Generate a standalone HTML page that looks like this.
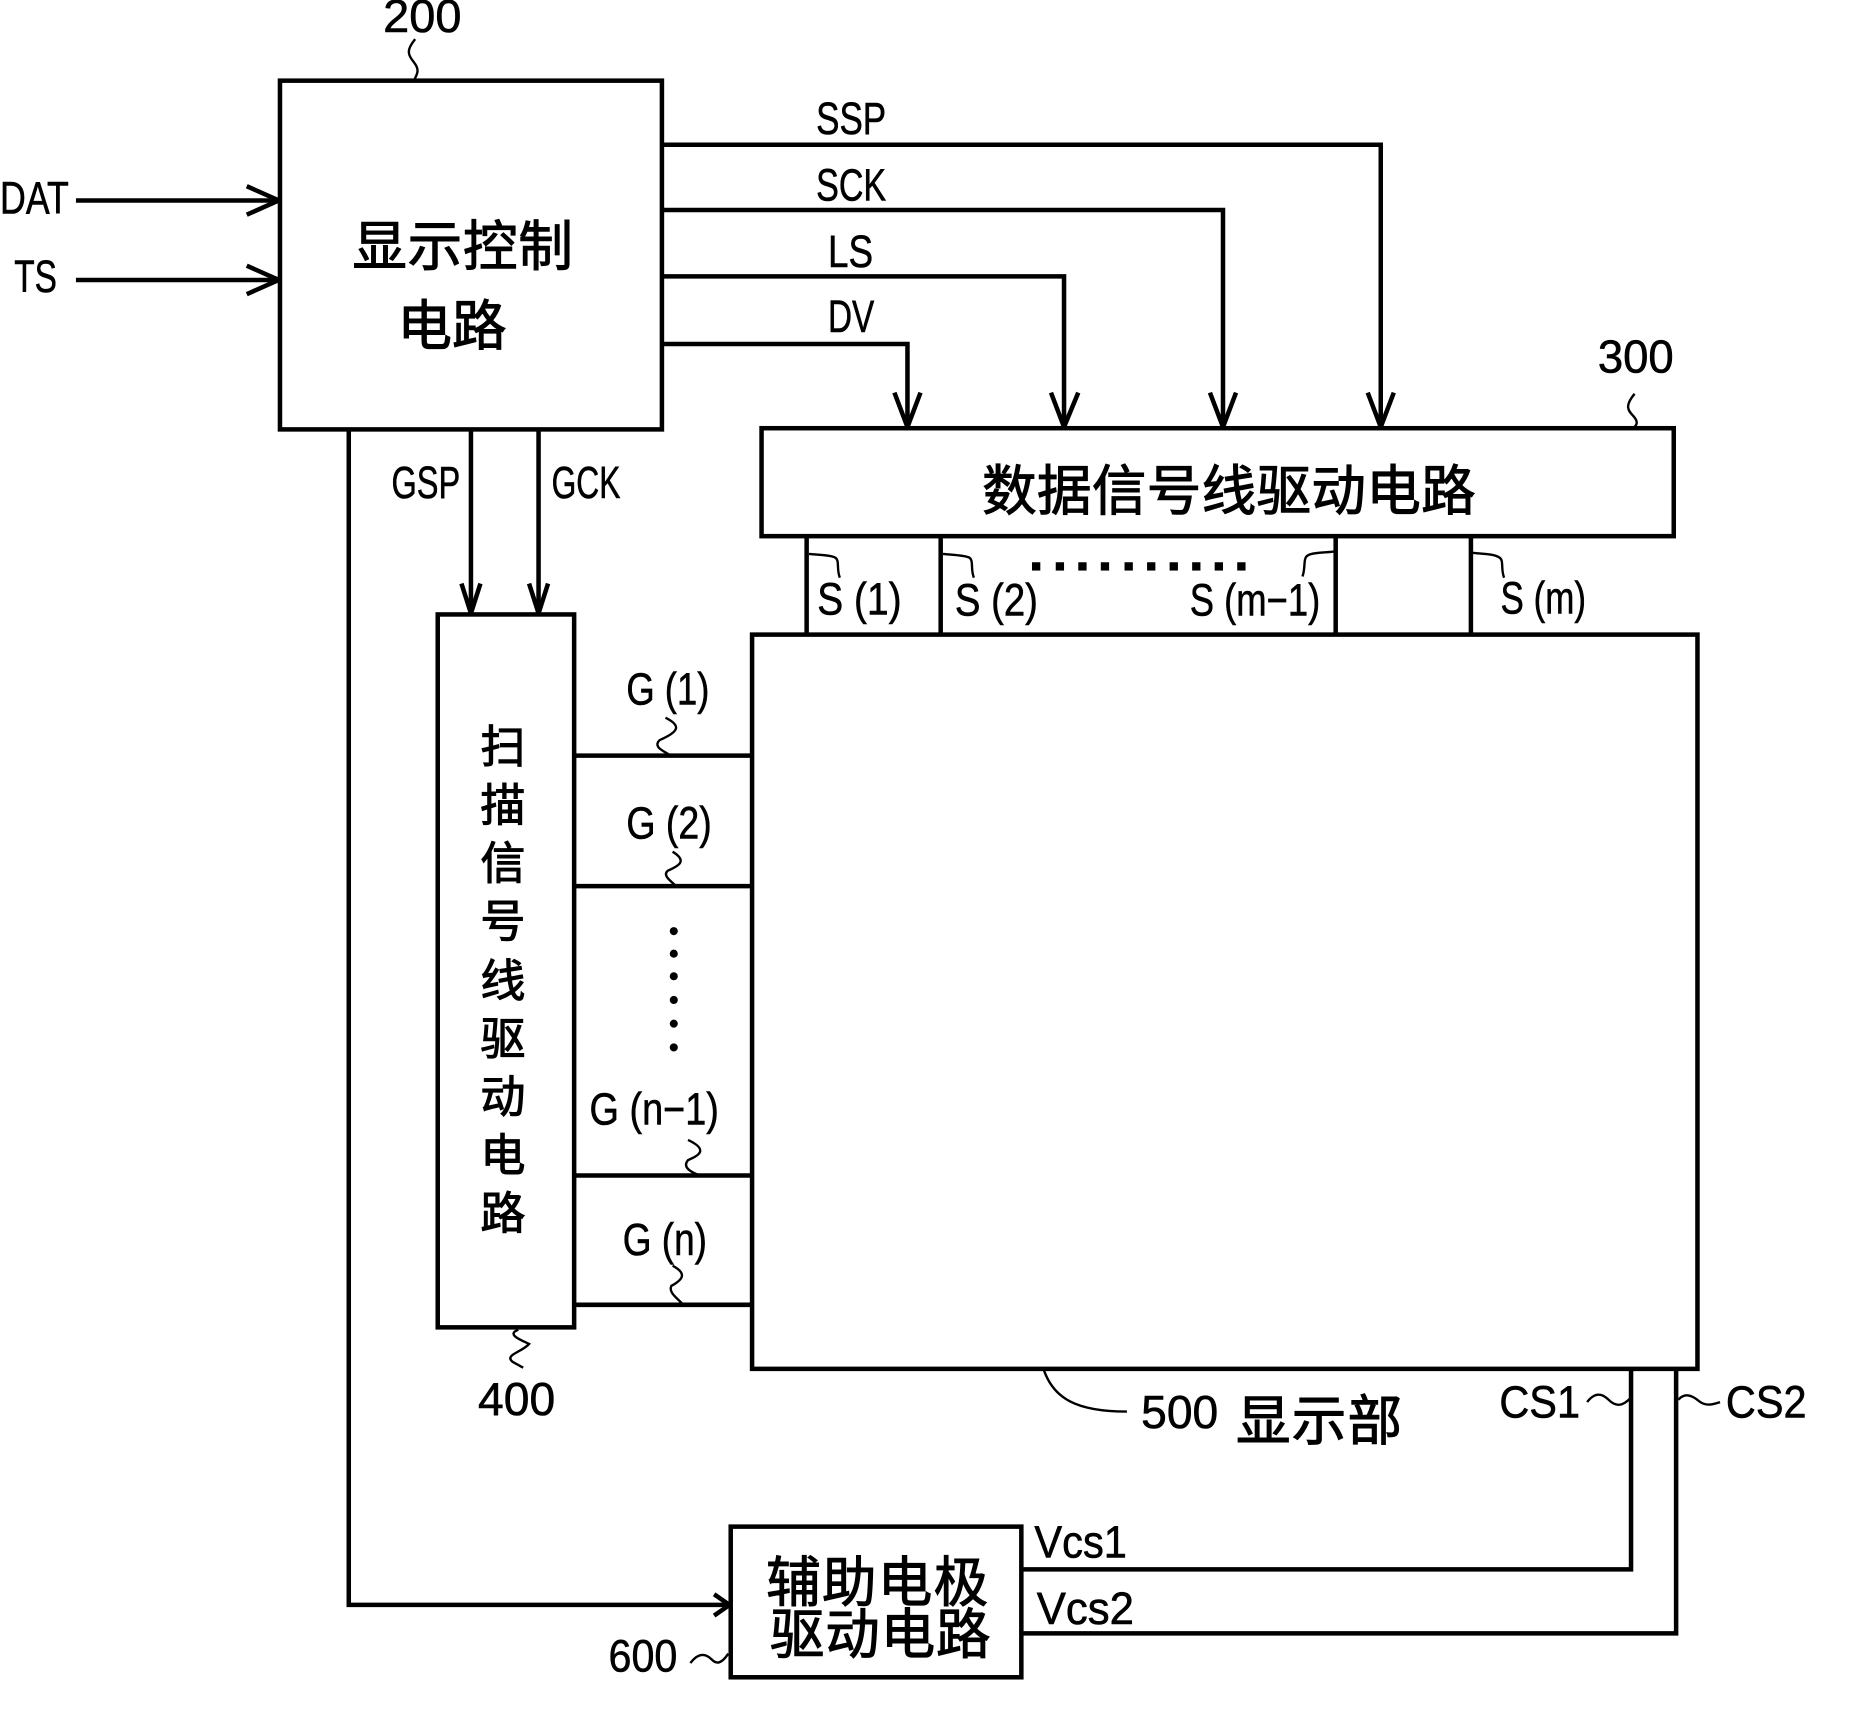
<!DOCTYPE html>
<html><head><meta charset="utf-8"><style>
html,body{margin:0;padding:0;background:#fff;width:1860px;height:1715px;overflow:hidden}
svg{display:block}
text{font-family:"Liberation Sans","Noto Sans CJK SC",sans-serif;fill:#000}
.l{font-size:38px}
.l text{stroke:#000;stroke-width:.5px}
.c{stroke:#000;stroke-width:.9px}
</style></head><body>
<svg width="1860" height="1715" viewBox="0 0 1568 1445.8" xmlns="http://www.w3.org/2000/svg">
<rect width="1568" height="1446" fill="#fff"/>
<g fill="none" stroke="#000" stroke-width="3.8">
<rect x="236" y="68" width="322" height="294"/>
<rect x="642" y="361" width="769" height="91"/>
<rect x="369" y="518" width="115" height="601"/>
<rect x="634" y="535" width="797" height="619"/>
<rect x="616" y="1287" width="245" height="127"/>
<path d="M558 122H1164V361M558 177H1031V361M558 233H897V361M558 290H765V361"/>
<path d="M64 169H236M64 236H236M397 362V518M454 362V518M294 362V1353H616"/>
<path d="M680 452V535M793 452V535M1126 452V535M1240 452V535"/>
<path d="M484 637H633M484 747H633M484 991H633M484 1100H633"/>
<path d="M1375 1154V1323H861M1413 1154V1377H861"/>
</g>
<g fill="none" stroke="#000" stroke-width="3.8" stroke-linejoin="bevel">
<path d="M754 331L765 360L776 331M886 331L897 360L909 331M1020 331L1031 360L1042 331M1153 331L1164 360L1175 331"/>
<path d="M208 157L235 169L208 181M208 224L235 236L208 248"/>
<path d="M389 492L397 517L405 492M446 492L454 517L462 492"/>
<path d="M602 1344L615 1353L602 1362"/>
</g>
<g fill="none" stroke="#000" stroke-width="2">
<path d="M350 33C341 44 345 47 350 54C354 60 351 63 349 68"/>
<path d="M1378 332C1368 344 1374 347 1378 352C1381 356 1380 358 1377 361"/>
<path d="M437 1121C426 1125 440 1130 446 1133C440 1140 425 1142 432 1148L441 1153"/>
<path d="M561 605C575 612 572 617 556 624C550 630 560 633 565 637"/>
<path d="M567 718C580 726 572 730 563 734C558 738 566 743 570 747"/>
<path d="M580 961C597 969 590 974 580 978C575 984 582 988 590 991"/>
<path d="M567 1067C580 1074 575 1079 566 1084C563 1090 572 1095 576 1100"/>
<path d="M682 467C692 468 700 468 704 470C708 472 705 480 708 487"/>
<path d="M795 467C805 468 812 468 817 470C821 472 818 480 821 487"/>
<path d="M1125 465C1115 466 1106 466 1103 468C1098 470 1101 478 1098 486"/>
<path d="M1241 466C1251 467 1260 467 1264 470C1268 472 1265 480 1268 487"/>
<path d="M880 1155C888 1178 906 1190 950 1190"/>
<path d="M1338 1182C1344 1174 1350 1174 1356 1180C1362 1186 1368 1186 1375 1178"/>
<path d="M1415 1180C1420 1174 1426 1176 1432 1181C1438 1186 1444 1184 1450 1182"/>
<path d="M582 1402C588 1394 594 1393 600 1399C604 1403 608 1403 614 1394"/>
</g>
<g fill="#000">
<rect x="870" y="474" width="7" height="7"/><rect x="890" y="474" width="7" height="7"/><rect x="909" y="474" width="7" height="7"/><rect x="928" y="474" width="7" height="7"/><rect x="948" y="474" width="7" height="7"/><rect x="967" y="474" width="7" height="7"/><rect x="986" y="474" width="7" height="7"/><rect x="1005" y="474" width="7" height="7"/><rect x="1024" y="474" width="7" height="7"/><rect x="1043" y="474" width="7" height="7"/>
<circle cx="568" cy="785" r="3.4"/><circle cx="568" cy="804" r="3.4"/><circle cx="568" cy="823" r="3.4"/><circle cx="568" cy="843" r="3.4"/><circle cx="568" cy="863" r="3.4"/><circle cx="568" cy="883" r="3.4"/>
</g>
<g class="l">
<text x="323" y="27" textLength="66" lengthAdjust="spacingAndGlyphs" style="font-size:39px">200</text>
<text x="688" y="113" textLength="59" lengthAdjust="spacingAndGlyphs">SSP</text>
<text x="688" y="169" textLength="59" lengthAdjust="spacingAndGlyphs">SCK</text>
<text x="698" y="225" textLength="38" lengthAdjust="spacingAndGlyphs">LS</text>
<text x="698" y="280" textLength="39" lengthAdjust="spacingAndGlyphs">DV</text>
<text x="0" y="180" textLength="58" lengthAdjust="spacingAndGlyphs">DAT</text>
<text x="12" y="246" textLength="36" lengthAdjust="spacingAndGlyphs">TS</text>
<text x="1347" y="314" textLength="64" lengthAdjust="spacingAndGlyphs" style="font-size:39px">300</text>
<text x="330" y="420" textLength="58" lengthAdjust="spacingAndGlyphs">GSP</text>
<text x="465" y="420" textLength="58" lengthAdjust="spacingAndGlyphs">GCK</text>
<text x="689" y="518" textLength="71" lengthAdjust="spacingAndGlyphs">S (1)</text>
<text x="805" y="519" textLength="70" lengthAdjust="spacingAndGlyphs">S (2)</text>
<text x="1003" y="519" textLength="110" lengthAdjust="spacingAndGlyphs">S (m−1)</text>
<text x="1265" y="517" textLength="72" lengthAdjust="spacingAndGlyphs">S (m)</text>
<text x="528" y="594" textLength="70" lengthAdjust="spacingAndGlyphs">G (1)</text>
<text x="528" y="707" textLength="72" lengthAdjust="spacingAndGlyphs">G (2)</text>
<text x="497" y="948" textLength="109" lengthAdjust="spacingAndGlyphs">G (n−1)</text>
<text x="525" y="1058" textLength="71" lengthAdjust="spacingAndGlyphs">G (n)</text>
<text x="403" y="1193" textLength="65" lengthAdjust="spacingAndGlyphs" style="font-size:39px">400</text>
<text x="962" y="1204" textLength="65" lengthAdjust="spacingAndGlyphs" style="font-size:39px">500</text>
<text x="1264" y="1195" textLength="68" lengthAdjust="spacingAndGlyphs">CS1</text>
<text x="1455" y="1195" textLength="68" lengthAdjust="spacingAndGlyphs">CS2</text>
<text x="872" y="1313" textLength="78" lengthAdjust="spacingAndGlyphs">Vcs1</text>
<text x="874" y="1369" textLength="82" lengthAdjust="spacingAndGlyphs">Vcs2</text>
<text x="513" y="1409" textLength="58" lengthAdjust="spacingAndGlyphs">600</text>
</g>
<g class="c">
<text x="297" y="224" font-size="46" textLength="186">显示控制</text>
<text x="335" y="291" font-size="46" textLength="92">电路</text>
<text x="828" y="430" font-size="46" textLength="416">数据信号线驱动电路</text>
<text x="1042" y="1214" font-size="46" textLength="140">显示部</text>
<text x="646" y="1350" font-size="46" textLength="187">辅助电极</text>
<text x="649" y="1394" font-size="46" textLength="186">驱动电路</text>
<g font-size="38" text-anchor="middle">
<text x="424" y="643">扫</text>
<text x="424" y="692">描</text>
<text x="424" y="741">信</text>
<text x="424" y="790">号</text>
<text x="424" y="840">线</text>
<text x="424" y="889">驱</text>
<text x="424" y="938">动</text>
<text x="424" y="987">电</text>
<text x="424" y="1036">路</text>
</g>
</g>
</svg>
</body></html>
